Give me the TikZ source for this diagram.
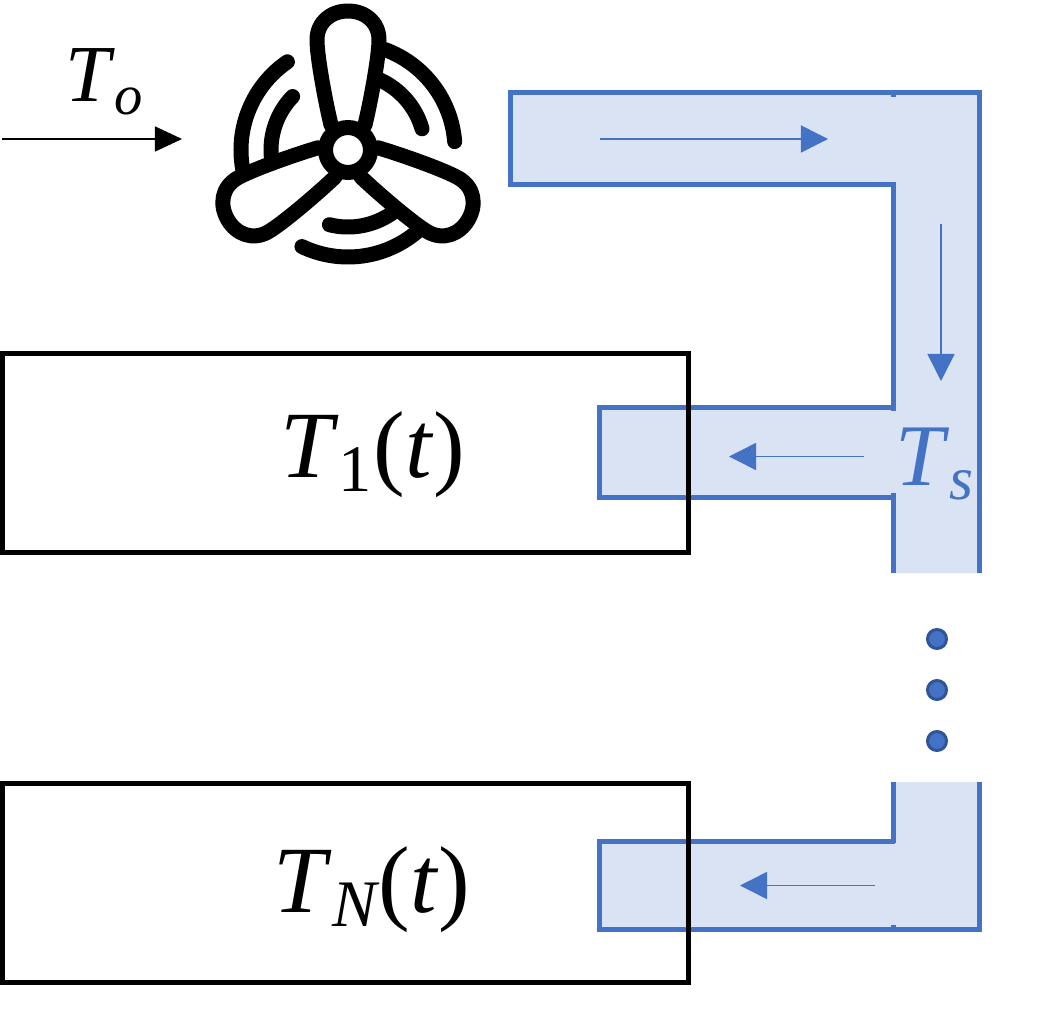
\documentclass[tikz,border=0pt]{standalone}
\usepackage{fontspec}
\setmainfont{Liberation Serif}
\usetikzlibrary{arrows.meta}
\definecolor{ductblue}{HTML}{4472C4}
\definecolor{ductfill}{HTML}{DAE3F3}
\definecolor{dotline}{HTML}{2F5597}
\tikzset{
  room/.style={draw=black, line width=.05cm, minimum width=6.85cm, minimum height=1.99cm, inner sep=0pt},
  roomlabel/.style={font=\fontsize{27}{32}\selectfont, inner sep=0pt},
  ductline/.style={draw=ductblue, line width=.05cm, line cap=butt, miter limit=10},
  flow/.style={draw=ductblue, line width=.015cm, -{Triangle[length=.27cm, width=.27cm, fill=ductblue]}},
  inflow/.style={draw=black, line width=.015cm, -{Triangle[length=.27cm, width=.25cm]}},
  fanline/.style={draw=black, line width=.15cm, line cap=round, line join=round},
  dotnode/.style={circle, fill=ductblue, draw=dotline, line width=.03cm, minimum size=.19cm, inner sep=0pt}
}
\begin{document}
\begin{tikzpicture}[x=.01cm, y=.01cm]
\useasboundingbox (0,0) rectangle (1063,1035);

%ducts
\fill[ductfill] (510,943) -- (979,943) -- (979,462) -- (893,462) -- (893,538) -- (599,538)
  -- (599,628) -- (893,628) -- (893,851) -- (510,851) -- cycle;
\fill[ductfill] (893,253) -- (979,253) -- (979,106) -- (599,106) -- (599,194) -- (893,194) -- cycle;
\draw[ductline] (893,851) -- (510,851) -- (510,943) -- (979,943) -- (979,462);
\draw[ductline] (893,628) -- (599,628) -- (599,538) -- (893,538);
\draw[ductline] (893,943) -- (893,938);
\draw[ductline] (893,853) -- (893,624);
\draw[ductline] (893,542) -- (893,462);
\draw[ductline] (893,253) -- (893,192);
\draw[ductline] (895,194) -- (599,194) -- (599,106) -- (979,106) -- (979,253);
\draw[ductline] (893,110) -- (893,106);

%rooms
\node[room] (room1) at (345.5,582) {};
\node[room] (roomN) at (345.5,152) {};
\node[roomlabel] (label1) at (372.5,580) {\textit{T}$_{\mathrm{1}}$(\textit{t})};
\node[roomlabel] (labelN) at (372,145) {\textit{T}$_{\mathit{N}}$(\textit{t})};

%flow arrows
\coordinate (in1) at (2,896);
\coordinate (in2) at (182,896);
\coordinate (top1) at (600,896);
\coordinate (top2) at (828,896);
\coordinate (down1) at (941,811);
\coordinate (down2) at (941,654);
\coordinate (branch1a) at (864,578.5);
\coordinate (branch1b) at (729,578.5);
\coordinate (branchNa) at (875,149.5);
\coordinate (branchNb) at (740,149.5);
\draw[inflow] (in1) -- (in2);
\draw[flow] (top1) -- (top2);
\draw[flow] (down1) -- (down2);
\draw[flow] (branch1a) -- (branch1b);
\draw[flow] (branchNa) -- (branchNb);

%labels
\node[font=\fontsize{23}{27}\selectfont, inner sep=0pt] (outside) at (105,953) {\textit{T}$_{\mathit{o}}$};
\node[font=\fontsize{25}{29}\selectfont, inner sep=0pt, text=ductblue] (supply) at (935,571) {\textit{T}$_{\mathit{s}}$};

%dots
\node[dotnode] (dot1) at (937,396) {};
\node[dotnode] (dot2) at (937,345) {};
\node[dotnode] (dot3) at (937,294) {};

%fan
\coordinate (fan) at (348,885);
\foreach \a in {0,120,240}{
  \begin{scope}[shift={(fan)}, rotate=-\a]
    \draw[fanline] (70:107) arc[start angle=70, end angle=4.5, radius=107];
    \draw[fanline] (66:77) arc[start angle=66, end angle=16, radius=77];
  \end{scope}
}
\foreach \a in {0,120,240}{
  \begin{scope}[shift={(fan)}, rotate=-\a]
    \draw[fanline, fill=white] (-17,25) .. controls (-24,55) and (-31,95) .. (-31,110)
      .. controls (-31,128) and (-17,139) .. (0,139)
      .. controls (17,139) and (31,128) .. (31,110)
      .. controls (31,95) and (24,55) .. (17,25);
  \end{scope}
}
\draw[fanline, fill=white] (fan) circle (22.5);
\end{tikzpicture}
\end{document}
